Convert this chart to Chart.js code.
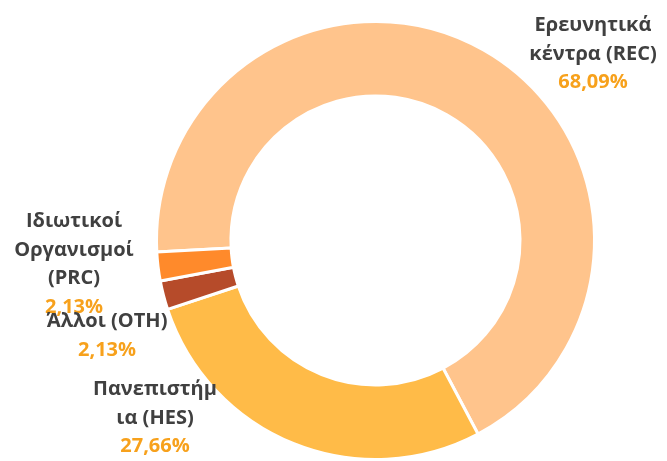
<!DOCTYPE html>
<html>
<head>
<meta charset="utf-8">
<script src="https://cdn.jsdelivr.net/npm/chart.js@4.4.1/dist/chart.umd.min.js"></script>
<style>
  html, body { margin: 0; padding: 0; background: #ffffff; }
  #wrap { width: 667px; height: 461px; position: relative; }
</style>
</head>
<body>
<div id="wrap"><canvas id="c" width="667" height="461"></canvas></div>
<script>
// ---- data ----
const categories = ["Ερευνητικά κέντρα (REC)", "Πανεπιστήμια (HES)", "Άλλοι (OTH)", "Ιδιωτικοί Οργανισμοί (PRC)"];
const labelLines = [
  ["Ερευνητικά", "κέντρα (REC)"],
  ["Πανεπιστήμ", "ια (HES)"],
  ["Άλλοι (OTH)"],
  ["Ιδιωτικοί", "Οργανισμοί", "(PRC)"]
];
const shares = [68.09, 27.66, 2.13, 2.13];

// ---- styles / layout (not data) ----
const sliceColors = ["#FFC48C", "#FFBB48", "#B64B2A", "#FF8A2B"];
const labelAnchors = [ // x centre, first baseline
  { x: 593, y: 31 },
  { x: 155, y: 395 },
  { x: 107, y: 327 },
  { x: 74, y: 227 }
];
const lineGap = 28.5;
const drawOrder = [0, 1, 3, 2];

const labelPlugin = {
  id: 'sliceLabels',
  afterDatasetsDraw(chart) {
    const ctx = chart.ctx;
    ctx.save();
    ctx.textAlign = 'center';
    ctx.textBaseline = 'alphabetic';
    ctx.font = 'bold 20px "Open Sans"';
    drawOrder.forEach(i => {
      const a = labelAnchors[i];
      const lines = labelLines[i];
      const pct = shares[i].toFixed(2).replace('.', ',') + '%';
      lines.forEach((t, k) => {
        ctx.fillStyle = '#404040';
        ctx.fillText(t, a.x, a.y + k * lineGap);
      });
      ctx.fillStyle = '#F7A11C';
      ctx.fillText(pct, a.x, a.y + lines.length * lineGap);
    });
    ctx.restore();
  }
};

new Chart(document.getElementById('c'), {
  type: 'doughnut',
  data: {
    labels: categories,
    datasets: [{
      data: shares,
      backgroundColor: sliceColors,
      borderColor: '#ffffff',
      borderWidth: 3
    }]
  },
  options: {
    responsive: false,
    animation: false,
    rotation: -93,
    cutout: '66%',
    layout: { padding: { top: 20, bottom: 0, left: 155, right: 71 } },
    plugins: {
      legend: { display: false },
      tooltip: { enabled: false }
    }
  },
  plugins: [labelPlugin]
});
</script>
</body>
</html>
